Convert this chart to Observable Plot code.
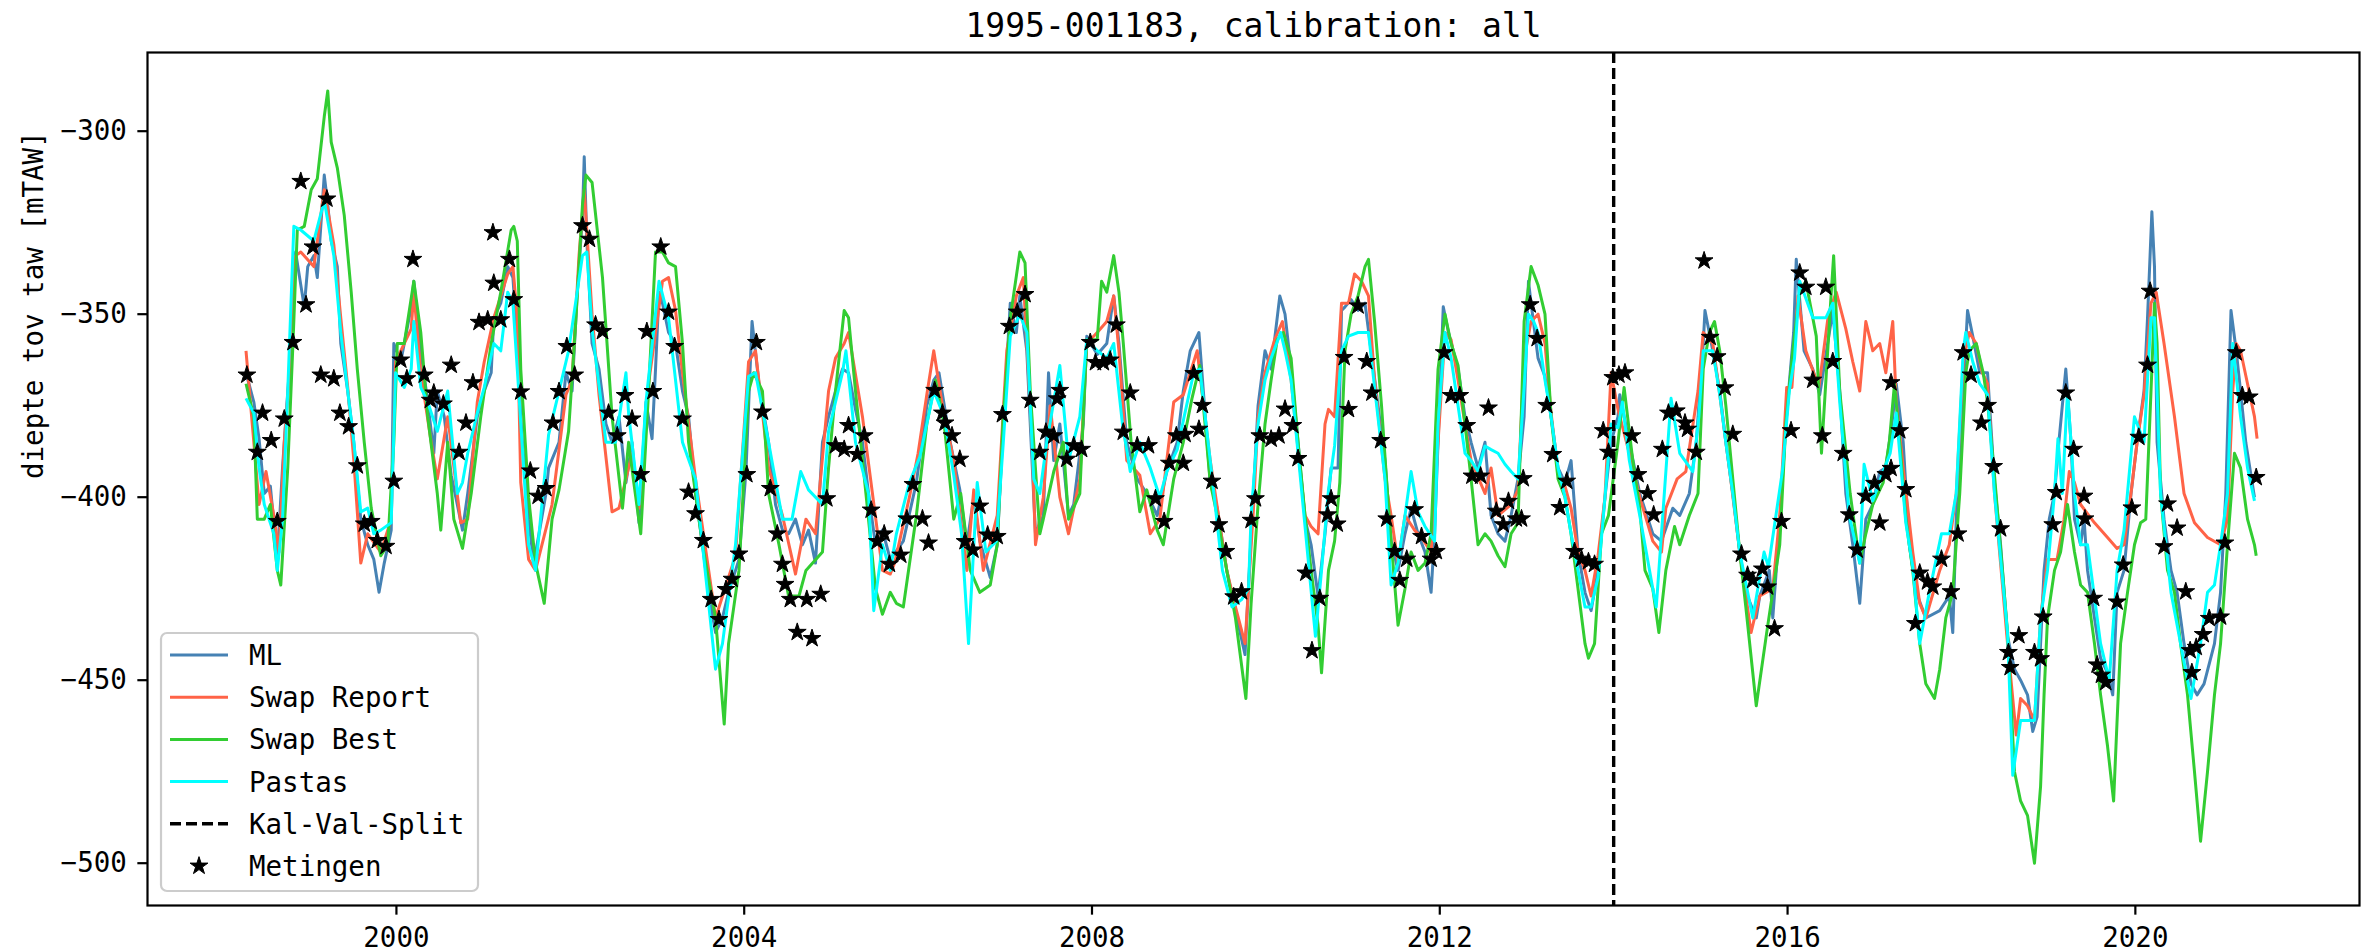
<!DOCTYPE html>
<html><head><meta charset="utf-8">
<script src="https://cdn.jsdelivr.net/npm/d3@7"></script>
<script src="https://cdn.jsdelivr.net/npm/@observablehq/plot@0.6"></script>
<style>
html,body{margin:0;padding:0;background:#fff;}
#wrap{position:relative;width:2372px;height:951px;font-family:"DejaVu Sans Mono",monospace;}
#wrap svg{display:block;}
#legend{position:absolute;left:0;top:0;pointer-events:none;}
</style></head>
<body><div id="wrap"></div>
<script>
const title = "1995-001183, calibration: all";
const yLabel = "diepte tov taw [mTAW]";
const xTicks = [2000, 2004, 2008, 2012, 2016, 2020];
const yTicks = [-300, -350, -400, -450, -500];
const splitYear = [2014.0];
const legendLabels = ["ML", "Swap Report", "Swap Best", "Pastas", "Kal-Val-Split", "Metingen"];

// [decimal year, depth mTAW]
const ml = [[1998.27,-366],[1998.36,-374],[1998.42,-384],[1998.48,-399],[1998.55,-397],[1998.63,-417],[1998.69,-392],[1998.73,-378],[1998.79,-358],[1998.84,-333],[1998.94,-348],[1998.98,-337],[1999.05,-334],[1999.09,-340],[1999.17,-312],[1999.21,-320],[1999.25,-330],[1999.32,-337],[1999.36,-358],[1999.44,-371],[1999.51,-385],[1999.59,-406],[1999.67,-413],[1999.74,-417],[1999.80,-426],[1999.86,-418],[1999.94,-409],[1999.97,-358],[2000.05,-363],[2000.17,-348],[2000.20,-341],[2000.28,-360],[2000.36,-374],[2000.43,-388],[2000.47,-371],[2000.55,-378],[2000.63,-394],[2000.70,-402],[2000.76,-409],[2000.82,-399],[2000.93,-378],[2001.01,-371],[2001.09,-366],[2001.12,-351],[2001.20,-347],[2001.28,-337],[2001.34,-340],[2001.39,-358],[2001.43,-378],
[2001.45,-385],[2001.52,-406],[2001.58,-418],[2001.64,-410],[2001.72,-399],[2001.75,-392],[2001.87,-385],[2001.95,-366],[2002.02,-371],[2002.08,-344],[2002.14,-323],[2002.16,-307],[2002.19,-330],[2002.25,-358],[2002.33,-365],[2002.41,-380],[2002.48,-385],[2002.56,-378],[2002.64,-396],[2002.71,-385],[2002.79,-407],[2002.87,-374],[2002.94,-384],[2002.98,-365],[2003.02,-344],[2003.06,-347],[2003.13,-355],[2003.21,-358],[2003.29,-371],[2003.36,-378],[2003.44,-399],[2003.52,-413],[2003.59,-426],[2003.67,-437],[2003.75,-433],[2003.82,-426],[2003.94,-417],[2004.02,-393],[2004.09,-352],[2004.17,-369],[2004.28,-385],[2004.36,-402],[2004.44,-409],[2004.51,-410],[2004.59,-406],[2004.67,-413],[2004.74,-409],[2004.82,-418],[2004.90,-385],[2004.97,-378],[2005.05,-371],[2005.13,-365],[2005.20,-366],[2005.28,-376],[2005.36,-385],[2005.43,-399],[2005.51,-413],[2005.59,-409],[2005.68,-417],
[2005.83,-412],[2005.98,-396],[2006.10,-375],[2006.18,-368],[2006.24,-366],[2006.37,-385],[2006.48,-398],[2006.56,-413],[2006.64,-400],[2006.71,-412],[2006.83,-422],[2006.91,-413],[2006.98,-380],[2007.06,-347],[2007.13,-355],[2007.17,-345],[2007.25,-360],[2007.35,-410],[2007.44,-405],[2007.50,-366],[2007.56,-390],[2007.63,-380],[2007.73,-405],[2007.79,-402],[2007.90,-380],[2007.94,-356],[2008.06,-361],[2008.17,-358],[2008.25,-345],[2008.31,-358],[2008.40,-385],[2008.52,-395],[2008.63,-399],[2008.75,-405],[2008.86,-393],[2008.98,-385],[2009.05,-371],[2009.13,-360],[2009.23,-355],[2009.36,-396],[2009.44,-403],[2009.55,-420],[2009.63,-429],[2009.76,-443],[2009.82,-415],
[2009.91,-375],[2009.99,-360],[2010.06,-365],[2010.16,-345],[2010.22,-350],[2010.29,-365],[2010.37,-385],[2010.45,-406],[2010.52,-413],[2010.60,-427],[2010.68,-410],[2010.75,-392],[2010.83,-392],[2010.87,-349],[2010.91,-348],[2010.98,-346],[2011.06,-349],[2011.14,-347],[2011.21,-360],[2011.29,-375],[2011.37,-390],[2011.44,-412],[2011.52,-420],[2011.60,-410],[2011.67,-403],[2011.75,-410],[2011.83,-415],[2011.90,-426],[2011.94,-410],[2011.98,-385],[2012.04,-348],[2012.10,-355],[2012.21,-365],[2012.29,-378],[2012.36,-385],[2012.44,-392],[2012.52,-385],[2012.59,-405],[2012.67,-410],[2012.75,-412],[2012.82,-405],[2012.90,-395],[2012.97,-378],[2013.02,-341],[2013.05,-347],[2013.13,-362],[2013.21,-367],[2013.28,-378],[2013.36,-392],[2013.44,-396],[2013.51,-390],[2013.59,-415],[2013.67,-426],[2013.74,-431],[2013.82,-420],[2013.90,-400],[2013.97,-385],[2014.05,-378],
[2014.07,-372],[2014.18,-385],[2014.30,-399],[2014.45,-410],[2014.55,-412],[2014.68,-403],[2014.76,-405],[2014.87,-399],[2014.95,-385],[2015.03,-358],[2015.05,-349],[2015.14,-360],[2015.22,-371],[2015.29,-385],[2015.37,-399],[2015.45,-415],[2015.52,-426],[2015.64,-433],[2015.68,-427],[2015.79,-420],[2015.83,-433],[2015.91,-407],[2015.98,-380],[2016.07,-355],[2016.10,-335],[2016.19,-360],[2016.29,-365],[2016.37,-372],[2016.52,-349],[2016.60,-371],[2016.67,-399],[2016.75,-413],[2016.83,-429],[2016.90,-406],[2016.98,-402],[2017.06,-393],[2017.13,-392],[2017.21,-378],[2017.25,-369],[2017.33,-385],[2017.40,-413],[2017.48,-426],[2017.59,-433],[2017.75,-431],[2017.86,-427],[2017.90,-437],[2017.94,-406],[2018.02,-371],[2018.07,-349],[2018.13,-356],[2018.21,-366],
[2018.30,-366],[2018.38,-396],[2018.45,-413],[2018.53,-438],[2018.61,-447],[2018.68,-450],[2018.76,-454],[2018.82,-464],[2018.87,-460],[2018.91,-440],[2018.95,-420],[2019.01,-406],[2019.07,-399],[2019.12,-385],[2019.20,-365],[2019.26,-385],[2019.30,-406],[2019.37,-413],[2019.41,-406],[2019.45,-420],[2019.53,-433],[2019.60,-444],[2019.68,-448],[2019.74,-454],[2019.79,-426],[2019.87,-420],[2019.95,-399],[2020.02,-385],[2020.10,-371],[2020.14,-351],[2020.19,-322],[2020.22,-337],[2020.25,-385],[2020.33,-406],[2020.41,-420],[2020.48,-426],[2020.56,-440],[2020.64,-451],[2020.71,-454],[2020.79,-451],[2020.91,-440],[2020.98,-426],[2021.04,-399],[2021.10,-349],[2021.16,-360],[2021.21,-371],[2021.27,-385],[2021.37,-400]];

const swapReport = [[1998.27,-360],[1998.36,-385],[1998.42,-402],[1998.50,-393],[1998.59,-405],[1998.65,-415],[1998.71,-385],[1998.79,-360],[1998.84,-334],[1998.90,-333],[1999.05,-337],[1999.17,-316],[1999.28,-331],[1999.36,-351],[1999.44,-370],[1999.51,-390],[1999.59,-418],[1999.67,-410],[1999.82,-415],[1999.94,-406],[1999.99,-363],[2000.17,-354],[2000.20,-344],[2000.28,-366],[2000.40,-385],[2000.47,-395],[2000.59,-378],[2000.74,-407],[2000.82,-406],[2000.93,-374],[2001.01,-363],[2001.12,-351],[2001.28,-339],[2001.34,-337],[2001.39,-351],[2001.43,-396],
[2001.52,-417],[2001.60,-420],[2001.79,-402],[2001.95,-372],[2002.02,-368],[2002.10,-334],[2002.16,-316],[2002.25,-350],[2002.33,-372],[2002.48,-404],[2002.56,-403],[2002.71,-388],[2002.79,-403],[2002.90,-369],[2003.06,-341],[2003.13,-340],[2003.21,-349],[2003.29,-366],[2003.44,-395],[2003.67,-433],[2003.90,-416],[2004.05,-363],[2004.13,-360],[2004.28,-392],[2004.44,-405],[2004.59,-421],[2004.71,-406],[2004.82,-410],[2004.97,-371],[2005.05,-362],[2005.15,-358],[2005.20,-355],[2005.36,-378],[2005.59,-420],[2005.68,-421],
[2005.73,-418],[2005.90,-400],[2006.00,-388],[2006.10,-372],[2006.18,-360],[2006.28,-375],[2006.41,-390],[2006.56,-420],[2006.64,-398],[2006.75,-420],[2006.91,-405],[2007.02,-360],[2007.13,-345],[2007.21,-340],[2007.31,-385],[2007.35,-413],[2007.44,-400],[2007.52,-375],[2007.63,-400],[2007.73,-410],[2007.86,-395],[2007.94,-358],[2008.06,-355],[2008.17,-352],[2008.25,-345],[2008.31,-360],[2008.40,-390],[2008.55,-394],[2008.67,-410],[2008.78,-406],[2008.94,-374],[2009.05,-372],[2009.13,-366],[2009.21,-360],[2009.36,-390],[2009.55,-420],[2009.65,-430],[2009.76,-440],[2009.86,-402],
[2009.91,-378],[2009.99,-366],[2010.10,-357],[2010.19,-352],[2010.29,-368],[2010.37,-387],[2010.45,-405],[2010.52,-408],[2010.60,-410],[2010.68,-380],[2010.72,-376],[2010.79,-378],[2010.87,-347],[2010.95,-347],[2011.02,-339],[2011.10,-341],[2011.18,-345],[2011.25,-368],[2011.37,-395],[2011.44,-405],[2011.52,-418],[2011.60,-405],[2011.71,-409],[2011.79,-411],[2011.90,-415],[2011.98,-385],[2012.06,-355],[2012.13,-357],[2012.21,-368],[2012.29,-380],[2012.36,-390],[2012.52,-399],[2012.59,-392],[2012.67,-405],[2012.82,-402],[2012.90,-398],[2012.97,-362],[2013.05,-352],[2013.13,-350],[2013.21,-358],[2013.28,-377],[2013.36,-393],[2013.44,-397],[2013.51,-403],[2013.59,-415],[2013.67,-420],[2013.74,-427],[2013.82,-416],[2013.90,-400],[2013.97,-366],[2014.05,-376],
[2014.18,-388],[2014.30,-400],[2014.45,-412],[2014.55,-415],[2014.60,-403],[2014.73,-395],[2014.83,-393],[2014.97,-371],[2015.03,-355],[2015.14,-358],[2015.22,-372],[2015.33,-392],[2015.45,-415],[2015.58,-437],[2015.68,-427],[2015.83,-425],[2015.91,-405],[2015.99,-370],[2016.05,-370],[2016.12,-345],[2016.21,-360],[2016.36,-370],[2016.47,-350],[2016.56,-344],[2016.67,-354],[2016.75,-363],[2016.83,-371],[2016.90,-352],[2016.98,-360],[2017.06,-358],[2017.13,-366],[2017.21,-352],[2017.25,-374],[2017.33,-392],[2017.44,-415],[2017.52,-429],[2017.59,-433],[2017.75,-420],[2017.86,-413],[2017.94,-399],[2018.02,-363],[2018.09,-355],[2018.17,-358],[2018.24,-366],
[2018.30,-369],[2018.38,-399],[2018.53,-440],[2018.63,-465],[2018.68,-455],[2018.76,-457],[2018.84,-461],[2018.91,-433],[2018.99,-417],[2019.10,-417],[2019.18,-406],[2019.24,-393],[2019.30,-396],[2019.37,-402],[2019.53,-407],[2019.68,-411],[2019.79,-414],[2019.87,-413],[2019.95,-399],[2020.02,-385],[2020.10,-372],[2020.18,-347],[2020.24,-344],[2020.33,-358],[2020.45,-378],[2020.56,-399],[2020.68,-407],[2020.83,-411],[2020.98,-413],[2021.06,-406],[2021.12,-371],[2021.16,-358],[2021.21,-360],[2021.29,-369],[2021.37,-378],[2021.40,-384]];

const swapBest = [[1998.27,-369],[1998.36,-378],[1998.40,-406],[1998.48,-406],[1998.55,-402],[1998.63,-420],[1998.67,-424],[1998.75,-392],[1998.81,-358],[1998.86,-327],[1998.94,-326],[1999.02,-316],[1999.09,-313],[1999.17,-296],[1999.21,-289],[1999.25,-303],[1999.32,-310],[1999.40,-323],[1999.48,-344],[1999.55,-365],[1999.63,-385],[1999.71,-403],[1999.82,-416],[1999.90,-413],[1999.97,-385],[2000.01,-358],[2000.09,-358],[2000.20,-341],[2000.28,-355],[2000.36,-378],[2000.47,-399],[2000.51,-409],[2000.59,-385],[2000.66,-406],[2000.76,-414],[2000.86,-399],[2000.97,-378],[2001.09,-358],[2001.20,-344],[2001.32,-327],[2001.35,-326],[2001.39,-330],[2001.43,-365],
[2001.52,-400],[2001.60,-418],[2001.70,-429],[2001.79,-406],[2001.87,-398],[2001.98,-382],[2002.06,-353],[2002.14,-320],[2002.18,-312],[2002.25,-314],[2002.37,-340],[2002.48,-378],[2002.60,-403],[2002.67,-385],[2002.73,-396],[2002.81,-410],[2002.90,-371],[2002.98,-333],[2003.06,-333],[2003.13,-336],[2003.21,-337],[2003.29,-358],[2003.36,-385],[2003.52,-413],[2003.67,-433],[2003.77,-462],[2003.82,-440],[2003.94,-420],[2004.05,-371],[2004.11,-366],[2004.21,-371],[2004.28,-399],[2004.40,-413],[2004.51,-427],[2004.63,-427],[2004.71,-420],[2004.90,-415],[2004.97,-392],[2005.05,-371],[2005.15,-349],[2005.20,-351],[2005.28,-371],[2005.40,-399],[2005.51,-425],[2005.59,-432],[2005.68,-426],
[2005.75,-429],[2005.83,-430],[2005.98,-405],[2006.10,-380],[2006.20,-368],[2006.30,-380],[2006.41,-406],[2006.49,-399],[2006.60,-420],[2006.71,-426],[2006.83,-424],[2006.91,-413],[2006.98,-378],[2007.06,-351],[2007.17,-333],[2007.23,-336],[2007.29,-371],[2007.40,-410],[2007.44,-406],[2007.56,-393],[2007.67,-385],[2007.73,-406],[2007.86,-399],[2007.94,-357],[2008.06,-357],[2008.11,-341],[2008.17,-344],[2008.25,-334],[2008.31,-344],[2008.36,-358],[2008.45,-385],[2008.55,-404],[2008.63,-398],[2008.75,-409],[2008.82,-413],[2008.94,-395],[2009.05,-385],[2009.15,-373],[2009.24,-364],[2009.36,-396],[2009.44,-405],[2009.55,-420],[2009.65,-433],[2009.77,-455],
[2009.83,-429],[2009.91,-402],[2009.99,-380],[2010.06,-368],[2010.13,-357],[2010.20,-355],[2010.29,-362],[2010.37,-385],[2010.45,-405],[2010.52,-420],[2010.60,-435],[2010.64,-448],[2010.72,-420],[2010.79,-412],[2010.85,-396],[2010.91,-360],[2010.98,-350],[2011.06,-345],[2011.14,-337],[2011.18,-335],[2011.25,-352],[2011.33,-375],[2011.41,-403],[2011.52,-435],[2011.60,-425],[2011.67,-415],[2011.75,-420],[2011.83,-418],[2011.90,-410],[2011.98,-365],[2012.06,-350],[2012.13,-358],[2012.21,-364],[2012.29,-380],[2012.36,-395],[2012.44,-413],[2012.52,-410],[2012.59,-412],[2012.67,-416],[2012.75,-419],[2012.82,-410],[2012.90,-407],[2012.97,-352],[2013.05,-337],[2013.13,-342],[2013.21,-350],[2013.28,-378],[2013.36,-395],[2013.44,-400],[2013.51,-410],[2013.59,-425],[2013.67,-440],[2013.71,-444],[2013.78,-440],[2013.86,-410],[2013.94,-405],[2014.05,-385],
[2014.12,-370],[2014.22,-390],[2014.30,-403],[2014.36,-420],[2014.45,-425],[2014.52,-437],[2014.60,-420],[2014.70,-408],[2014.76,-413],[2014.87,-405],[2014.97,-399],[2015.03,-365],[2015.10,-355],[2015.16,-352],[2015.22,-360],[2015.29,-375],[2015.37,-395],[2015.45,-415],[2015.52,-430],[2015.64,-457],[2015.76,-437],[2015.91,-413],[2015.98,-380],[2016.06,-360],[2016.14,-344],[2016.21,-341],[2016.33,-356],[2016.39,-388],[2016.50,-345],[2016.53,-334],[2016.60,-371],[2016.72,-399],[2016.83,-418],[2016.90,-410],[2016.98,-402],[2017.10,-396],[2017.17,-385],[2017.23,-369],[2017.29,-385],[2017.36,-406],[2017.44,-420],[2017.52,-440],[2017.59,-451],[2017.69,-455],[2017.75,-447],[2017.82,-433],[2017.90,-426],[2017.98,-399],[2018.05,-366],[2018.09,-360],[2018.17,-358],[2018.25,-366],
[2018.30,-374],[2018.38,-394],[2018.53,-437],[2018.61,-475],[2018.68,-483],[2018.76,-487],[2018.84,-500],[2018.91,-479],[2018.95,-454],[2018.99,-433],[2019.07,-420],[2019.14,-415],[2019.22,-402],[2019.30,-415],[2019.37,-424],[2019.45,-426],[2019.53,-440],[2019.60,-454],[2019.68,-468],[2019.75,-483],[2019.79,-461],[2019.83,-440],[2019.91,-426],[2019.99,-413],[2020.06,-407],[2020.12,-406],[2020.18,-371],[2020.22,-347],[2020.25,-358],[2020.29,-399],[2020.37,-420],[2020.45,-426],[2020.52,-440],[2020.60,-454],[2020.68,-475],[2020.75,-494],[2020.83,-475],[2020.91,-454],[2020.98,-440],[2021.06,-413],[2021.14,-388],[2021.21,-392],[2021.29,-406],[2021.37,-413],[2021.39,-416]];

const pastas = [[1998.27,-373],[1998.36,-377],[1998.42,-392],[1998.48,-402],[1998.59,-410],[1998.63,-420],[1998.69,-406],[1998.75,-371],[1998.82,-326],[1998.90,-327],[1999.05,-330],[1999.17,-319],[1999.28,-334],[1999.36,-355],[1999.51,-385],[1999.59,-404],[1999.67,-403],[1999.74,-410],[1999.82,-409],[1999.94,-407],[1999.99,-366],[2000.09,-370],[2000.17,-365],[2000.20,-352],[2000.28,-370],[2000.36,-374],[2000.47,-382],[2000.59,-371],[2000.70,-399],[2000.76,-396],[2000.82,-388],[2000.93,-377],[2001.01,-370],[2001.12,-358],[2001.20,-360],[2001.28,-344],[2001.34,-347],[2001.39,-365],
[2001.52,-413],[2001.60,-420],[2001.75,-383],[2001.98,-360],[2002.14,-334],[2002.19,-333],[2002.25,-354],[2002.41,-385],[2002.52,-385],[2002.64,-366],[2002.67,-377],[2002.79,-402],[2002.87,-374],[2003.02,-341],[2003.13,-351],[2003.29,-385],[2003.44,-395],[2003.67,-447],[2003.75,-440],[2003.90,-413],[2004.05,-367],[2004.13,-366],[2004.28,-385],[2004.44,-406],[2004.55,-406],[2004.65,-393],[2004.74,-398],[2004.90,-402],[2004.97,-382],[2005.13,-366],[2005.17,-360],[2005.28,-385],[2005.43,-399],[2005.49,-431],[2005.59,-413],[2005.68,-420],
[2005.75,-410],[2005.90,-396],[2006.02,-389],[2006.18,-371],[2006.30,-378],[2006.41,-394],[2006.50,-410],[2006.58,-440],[2006.68,-396],[2006.78,-415],[2006.90,-412],[2006.98,-385],[2007.06,-356],[2007.17,-350],[2007.25,-355],[2007.33,-395],[2007.40,-399],[2007.48,-385],[2007.63,-364],[2007.73,-390],[2007.86,-378],[2007.94,-357],[2008.06,-360],[2008.17,-362],[2008.25,-358],[2008.35,-380],[2008.44,-393],[2008.55,-385],[2008.67,-392],[2008.78,-400],[2008.86,-393],[2008.98,-387],[2009.06,-378],[2009.17,-366],[2009.24,-365],[2009.36,-390],[2009.50,-420],[2009.61,-430],[2009.72,-428],[2009.80,-425],
[2009.83,-405],[2009.91,-380],[2009.99,-368],[2010.06,-362],[2010.17,-355],[2010.22,-360],[2010.29,-368],[2010.37,-388],[2010.45,-408],[2010.57,-438],[2010.64,-420],[2010.72,-398],[2010.79,-386],[2010.87,-360],[2010.95,-356],[2011.06,-355],[2011.18,-355],[2011.25,-370],[2011.37,-395],[2011.44,-424],[2011.52,-418],[2011.60,-405],[2011.67,-393],[2011.75,-404],[2011.83,-408],[2011.94,-412],[2011.98,-380],[2012.06,-355],[2012.13,-362],[2012.21,-375],[2012.29,-388],[2012.36,-390],[2012.44,-393],[2012.52,-386],[2012.59,-387],[2012.67,-388],[2012.75,-391],[2012.82,-393],[2012.90,-395],[2012.97,-370],[2013.02,-350],[2013.08,-352],[2013.13,-355],[2013.21,-368],[2013.28,-378],[2013.36,-392],[2013.44,-400],[2013.51,-410],[2013.59,-420],[2013.67,-430],[2013.74,-430],[2013.82,-422],[2013.90,-400],[2013.97,-380],[2014.05,-381],
[2014.10,-374],[2014.18,-390],[2014.30,-405],[2014.45,-425],[2014.49,-430],[2014.66,-373],[2014.76,-388],[2014.91,-393],[2014.98,-378],[2015.03,-360],[2015.14,-360],[2015.22,-372],[2015.29,-385],[2015.37,-399],[2015.45,-415],[2015.60,-433],[2015.73,-415],[2015.78,-419],[2015.94,-393],[2016.02,-371],[2016.08,-362],[2016.14,-341],[2016.29,-351],[2016.44,-351],[2016.52,-347],[2016.60,-374],[2016.71,-405],[2016.83,-418],[2016.88,-391],[2016.98,-401],[2017.10,-393],[2017.18,-388],[2017.25,-377],[2017.36,-407],[2017.44,-419],[2017.52,-440],[2017.63,-426],[2017.77,-410],[2017.86,-410],[2017.94,-399],[2018.02,-360],[2018.05,-355],[2018.13,-363],[2018.21,-369],
[2018.30,-372],[2018.38,-399],[2018.53,-437],[2018.59,-476],[2018.68,-461],[2018.84,-461],[2018.91,-433],[2018.99,-420],[2019.07,-399],[2019.11,-384],[2019.16,-399],[2019.22,-371],[2019.30,-399],[2019.37,-413],[2019.45,-413],[2019.60,-440],[2019.70,-450],[2019.79,-420],[2019.87,-409],[2019.99,-378],[2020.10,-385],[2020.18,-351],[2020.22,-351],[2020.29,-399],[2020.41,-426],[2020.52,-440],[2020.64,-455],[2020.75,-440],[2020.83,-426],[2020.91,-424],[2020.98,-413],[2021.06,-399],[2021.12,-358],[2021.21,-378],[2021.29,-392],[2021.37,-401]];

const metingen = [[1998.28,-366.6],[1998.46,-377.0],[1998.40,-387.7],[1998.56,-384.5],[1998.71,-378.6],[1998.63,-406.6],[1998.90,-313.7],[1998.81,-357.7],[1999.04,-331.6],[1998.96,-347.4],[1999.20,-318.5],[1999.13,-366.6],[1999.28,-367.6],[1999.35,-377.0],[1999.45,-380.7],[1999.55,-391.4],[1999.63,-407.3],[1999.71,-406.6],[1999.78,-411.8],[1999.88,-413.4],[1999.97,-395.6],[2000.05,-362.5],[2000.12,-367.6],[2000.19,-335.0],[2000.32,-366.6],[2000.39,-373.5],[2000.43,-371.5],[2000.54,-374.5],[2000.63,-363.9],[2000.72,-387.7],[2000.80,-379.7],[2000.88,-368.7],[2000.95,-352.2],[2001.05,-351.5],[2001.11,-327.7],[2001.12,-341.5],[2001.20,-351.5],[2001.30,-335.0],[2001.35,-346.0],[2001.43,-371.2],
[2001.54,-392.8],[2001.63,-399.7],[2001.72,-397.6],[2001.80,-379.7],[2001.87,-371.1],[2001.96,-358.8],[2002.05,-366.6],[2002.14,-325.8],[2002.22,-329.5],[2002.29,-352.9],[2002.37,-354.7],[2002.44,-377.0],[2002.54,-383.2],[2002.63,-372.2],[2002.71,-378.6],[2002.81,-393.8],[2002.88,-354.7],[2002.95,-371.1],[2003.04,-331.6],[2003.13,-349.4],[2003.20,-358.8],[2003.29,-378.6],[2003.36,-398.6],[2003.44,-404.5],[2003.53,-411.8],[2003.62,-427.9],[2003.71,-433.4],[2003.79,-425.2],[2003.86,-422.4],[2003.94,-415.5],[2004.03,-393.8],[2004.14,-357.7],[2004.21,-376.7],[2004.30,-397.6],[2004.38,-410.0],[2004.44,-418.3],[2004.47,-423.8],[2004.53,-427.9],[2004.61,-436.9],[2004.72,-427.9],[2004.78,-438.6],[2004.88,-426.5],[2004.95,-400.4],[2005.05,-385.9],[2005.15,-386.9],[2005.20,-380.4],[2005.30,-388.3],[2005.38,-383.2],[2005.46,-403.5],[2005.53,-412.1],[2005.61,-410.0],[2005.67,-418.3],
[2005.80,-415.8],[2005.87,-405.9],[2005.94,-396.5],[2006.05,-405.9],[2006.12,-412.5],[2006.19,-370.8],[2006.28,-377.0],[2006.31,-379.7],[2006.39,-383.2],[2006.48,-389.6],[2006.54,-412.1],[2006.63,-414.4],[2006.71,-402.4],[2006.80,-410.3],[2006.91,-410.7],[2006.97,-377.4],[2007.05,-353.3],[2007.14,-349.4],[2007.23,-344.6],[2007.29,-373.5],[2007.40,-387.7],[2007.47,-382.2],[2007.56,-383.2],[2007.63,-370.8],[2007.60,-373.1],[2007.71,-389.6],[2007.79,-385.9],[2007.88,-386.9],[2007.98,-357.7],[2008.04,-363.2],[2008.13,-363.2],[2008.21,-362.5],[2008.28,-352.9],[2008.36,-382.2],[2008.44,-371.5],[2008.52,-385.9],[2008.65,-385.9],[2008.73,-400.4],[2008.83,-406.6],[2008.89,-390.7],[2008.97,-383.2],[2009.07,-382.8],[2009.05,-390.7],[2009.17,-366.2],[2009.23,-381.4],[2009.27,-374.9],[2009.38,-395.6],[2009.46,-407.5],[2009.54,-414.8],[2009.63,-427.2],[2009.72,-425.8],[2009.83,-406.3],[2009.88,-400.4],[2009.93,-383.2],
[2010.06,-384.1],[2010.15,-383.2],[2010.22,-375.9],[2010.31,-380.4],[2010.37,-389.4],[2010.46,-420.7],[2010.62,-427.6],[2010.53,-441.9],[2010.71,-404.8],[2010.75,-400.4],[2010.82,-407.3],[2010.90,-361.8],[2010.95,-376.0],[2011.06,-347.7],[2011.16,-362.9],[2011.22,-371.5],[2011.32,-384.5],[2011.39,-405.9],[2011.48,-414.8],[2011.54,-422.7],[2011.62,-416.9],[2011.71,-403.4],[2011.79,-410.7],[2011.90,-416.9],[2011.96,-414.8],[2012.05,-360.5],[2012.13,-372.2],[2012.23,-372.2],[2012.31,-380.4],[2012.37,-394.2],[2012.47,-394.2],[2012.56,-375.6],[2012.65,-403.8],[2012.73,-407.5],[2012.79,-401.1],[2012.88,-405.9],[2012.94,-405.9],[2012.96,-394.9],[2013.04,-347.4],[2013.12,-356.6],[2013.23,-374.9],[2013.30,-388.3],[2013.38,-402.8],[2013.46,-395.6],[2013.55,-414.8],[2013.63,-416.9],[2013.71,-417.6],[2013.78,-418.3],[2013.88,-381.8],[2013.94,-387.7],[2013.99,-367.3],[2014.06,-366.6],[2014.13,-366.0],
[2014.21,-383.2],[2014.28,-393.8],[2014.39,-399.0],[2014.46,-404.8],[2014.56,-386.9],[2014.63,-377.0],[2014.72,-376.4],[2014.82,-379.7],[2014.85,-381.4],[2014.95,-387.7],[2015.04,-335.4],[2015.11,-356.3],[2015.19,-361.6],[2015.28,-370.1],[2015.37,-382.8],[2015.47,-415.5],[2015.54,-421.3],[2015.60,-422.7],[2015.71,-419.6],[2015.77,-424.5],[2015.85,-435.9],[2015.93,-406.6],[2016.04,-381.8],[2016.14,-338.7],[2016.21,-342.6],[2016.29,-368.0],[2016.40,-383.2],[2016.44,-342.6],[2016.52,-362.9],[2016.64,-388.0],[2016.71,-404.8],[2016.80,-414.4],[2016.90,-399.7],[2017.00,-396.2],[2017.06,-407.0],[2017.13,-393.8],[2017.19,-392.1],[2017.19,-368.7],[2017.29,-381.8],[2017.36,-397.9],[2017.47,-434.5],[2017.52,-420.7],[2017.61,-423.1],[2017.67,-424.5],[2017.77,-416.9],[2017.88,-425.8],[2017.96,-410.0],[2018.02,-360.5],[2018.11,-366.6],[2018.23,-379.7],[2018.30,-374.9],[2018.37,-391.6],
[2018.45,-408.6],[2018.54,-442.4],[2018.56,-446.5],[2018.66,-437.8],[2018.84,-442.4],[2018.91,-444.1],[2018.94,-432.7],[2019.05,-407.5],[2019.09,-398.7],[2019.20,-371.5],[2019.29,-386.9],[2019.41,-399.7],[2019.42,-405.9],[2019.52,-427.6],[2019.56,-445.8],[2019.61,-448.6],[2019.66,-450.6],[2019.79,-428.6],[2019.86,-418.5],[2019.96,-402.9],[2020.04,-383.6],[2020.14,-363.9],[2020.17,-343.7],[2020.33,-413.5],[2020.37,-401.8],[2020.48,-408.4],[2020.58,-425.8],[2020.63,-441.9],[2020.65,-447.9],[2020.70,-441.0],[2020.78,-437.5],[2020.85,-433.1],[2020.98,-432.7],[2021.03,-412.5],[2021.16,-360.5],[2021.23,-372.2],[2021.31,-372.6],[2021.39,-394.6]];

// ---- styling / layout (not data) ----
const colors = {ML: "steelblue", "Swap Report": "tomato", "Swap Best": "limegreen", Pastas: "cyan"};
const FONT = '"DejaVu Sans Mono", monospace';
const LW = 3;
const DASH_W = 3.4;
const DASH = "11,5";
const STAR_R = 5.6;
const W = 2372, H = 951;
const M = {left: 147, right: 13, top: 52, bottom: 46};
const xDomain = [1997.137, 2022.578];
const yDomain = [-511.56, -278.5];

const byYear = arr => d3.sort(arr, d => d[0]);
const seriesList = [["ML", ml], ["Swap Report", swapReport], ["Swap Best", swapBest], ["Pastas", pastas]];

const plot = Plot.plot({
  width: W, height: H,
  marginLeft: M.left, marginRight: M.right, marginTop: M.top, marginBottom: M.bottom,
  style: {fontFamily: FONT, fontSize: "27.5px", color: "#000", background: "#fff", overflow: "visible"},
  x: {domain: xDomain},
  y: {domain: yDomain},
  marks: [
    ...seriesList.map(([name, arr]) => Plot.line(byYear(arr), {x: d => d[0], y: d => d[1], stroke: colors[name], strokeWidth: LW, strokeLinejoin: "round", strokeLinecap: "butt"})),
    Plot.ruleX(splitYear, {stroke: "#000", strokeWidth: DASH_W, strokeDasharray: DASH}),
    Plot.dot(metingen, {x: d => d[0], y: d => d[1], symbol: "star", r: STAR_R, fill: "#000", stroke: "#000", strokeWidth: 1}),
    Plot.frame({stroke: "#000", strokeWidth: 2.2}),
    Plot.axisX({ticks: xTicks, tickFormat: d => String(d), tickSize: 9.66, tickPadding: 12, strokeWidth: 2.2, label: null, fontSize: 27.5}),
    Plot.axisY({ticks: yTicks, tickSize: 9.66, tickPadding: 11, strokeWidth: 2.2, label: null, fontSize: 27.5}),
    Plot.text([title], {frameAnchor: "top", dy: -16, lineAnchor: "bottom", fontSize: 33, fill: "#000"}),
    Plot.text([yLabel], {frameAnchor: "left", dx: -105, rotate: -90, lineAnchor: "bottom", fontSize: 27.5, fill: "#000"})
  ]
});
const wrap = document.getElementById("wrap");
wrap.appendChild(plot);

// ---- legend overlay (matplotlib style box, lower left inside axes) ----
const ns = "http://www.w3.org/2000/svg";
const lg = document.createElementNS(ns, "svg");
lg.setAttribute("id", "legend");
lg.setAttribute("width", W); lg.setAttribute("height", H);
const box = {x: 161, y: 633, w: 317, h: 258};
const rect = document.createElementNS(ns, "rect");
Object.entries({x: box.x, y: box.y, width: box.w, height: box.h, rx: 6, ry: 6, fill: "#fff", "fill-opacity": 0.8, stroke: "#cccccc", "stroke-width": 2.2}).forEach(([k, v]) => rect.setAttribute(k, v));
lg.appendChild(rect);
const rowY0 = 655, rowStep = 42.2, swX1 = 170, swX2 = 228, txtX = 249;
legendLabels.forEach((label, i) => {
  const y = rowY0 + i * rowStep;
  if (i < 5) {
    const ln = document.createElementNS(ns, "line");
    const attrs = {x1: swX1, x2: swX2, y1: y, y2: y, stroke: i < 4 ? colors[label] : "#000", "stroke-width": i < 4 ? LW : DASH_W};
    if (i === 4) attrs["stroke-dasharray"] = DASH;
    Object.entries(attrs).forEach(([k, v]) => ln.setAttribute(k, v));
    lg.appendChild(ln);
  } else {
    const p = document.createElementNS(ns, "path");
    p.setAttribute("d", d3.symbol(d3.symbolStar, Math.PI * STAR_R * STAR_R)());
    p.setAttribute("transform", `translate(${(swX1 + swX2) / 2},${y})`);
    p.setAttribute("fill", "#000"); p.setAttribute("stroke", "#000"); p.setAttribute("stroke-width", 1);
    lg.appendChild(p);
  }
  const t = document.createElementNS(ns, "text");
  t.setAttribute("x", txtX); t.setAttribute("y", y + 10);
  t.setAttribute("font-family", FONT); t.setAttribute("font-size", 27.5); t.setAttribute("fill", "#000");
  t.textContent = label;
  lg.appendChild(t);
});
wrap.appendChild(lg);
</script>
</body></html>
